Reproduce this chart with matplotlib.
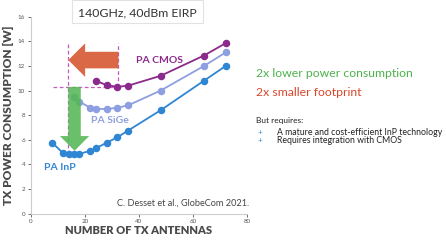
import matplotlib
matplotlib.use("Agg")
import matplotlib.pyplot as plt
from matplotlib.patches import Rectangle

# data
inp_x = [8, 12, 14, 16, 18, 22, 24, 28, 32, 36, 48, 64, 72]
inp_y = [5.75, 4.9, 4.8, 4.8, 4.85, 5.1, 5.3, 5.75, 6.2, 6.75, 8.4, 10.8, 12.0]
sige_x = [16, 18, 22, 24, 28, 32, 36, 48, 64, 72]
sige_y = [9.5, 9.1, 8.6, 8.5, 8.5, 8.6, 8.8, 10.0, 12.0, 13.1]
cmos_x = [24, 28, 32, 36, 48, 64, 72]
cmos_y = [10.8, 10.45, 10.3, 10.4, 11.2, 12.85, 13.85]
x_ticks = [0, 20, 40, 60, 80]
y_ticks = [0, 2, 4, 6, 8, 10, 12, 14, 16]

c_inp = '#2f86d3'
c_sige = '#8d9fe0'
c_cmos = '#8b2a8c'
c_dash = '#c55ac5'

plt.rcParams['font.family'] = ['Lato', 'DejaVu Sans']

fig = plt.figure(figsize=(4.46, 2.40), dpi=100)
ax = fig.add_axes([0.0688, 0.1104, 0.4857, 0.8196])

ax.plot(inp_x, inp_y, '-o', color=c_inp, lw=1.3, ms=4.4, zorder=3)
ax.plot(sige_x, sige_y, '-o', color=c_sige, lw=1.3, ms=4.4, zorder=3)
ax.plot(cmos_x, cmos_y, '-o', color=c_cmos, lw=1.3, ms=4.4, zorder=3)

# dashed guide lines
ax.plot([8.2, 32.3], [10.3, 10.3], ls=(0, (3, 2)), color=c_dash, lw=0.9, zorder=2)
ax.plot([13.9, 13.9], [4.8, 13.9], ls=(0, (3, 2)), color=c_dash, lw=0.9, zorder=2)
ax.plot([32.1, 32.1], [10.3, 13.9], ls=(0, (3, 2)), color=c_dash, lw=0.9, zorder=2)

# arrows
ax.arrow(32.4, 12.48, -12.3, 0, width=1.35, head_width=2.72, head_length=6.2,
         length_includes_head=False, color='#d8603c', lw=0, alpha=0.95, zorder=4)
ax.arrow(16.2, 10.3, 0, -4.0, width=4.6, head_width=10.8, head_length=1.2,
         length_includes_head=False, color='#55b855', lw=0, alpha=0.88, zorder=4)

ax.text(47.4, 12.42, 'PA CMOS', color=c_cmos, fontsize=7.5, fontweight='bold',
        ha='center', va='center')
ax.text(29.3, 7.6, 'PA SiGe', color=c_sige, fontsize=7.5, fontweight='bold',
        ha='center', va='center')
ax.text(10.9, 3.72, 'PA InP', color=c_inp, fontsize=7.5, fontweight='bold',
        ha='center', va='center')
ax.text(80.5, 0.8, 'C. Desset et al., GlobeCom 2021.', color='#444444', fontsize=6.6,
        ha='right', va='center')

ax.set_xlim(0, 80)
ax.set_ylim(0, 16)
ax.set_xticks(x_ticks)
ax.set_yticks(y_ticks)
ax.tick_params(labelsize=4.5, colors='#555555', length=2, width=0.6, pad=2)
for s in ['top', 'right']:
    ax.spines[s].set_visible(False)
for s in ['left', 'bottom']:
    ax.spines[s].set_color('#cccccc')
    ax.spines[s].set_linewidth(0.8)

ax.set_xlabel('NUMBER OF TX ANTENNAS', fontsize=8, fontweight='heavy',
              color='#4a4a4a', labelpad=1)
ax.set_ylabel('TX POWER CONSUMPTION [W]', fontsize=8.6, fontweight='heavy',
              color='#4a4a4a', labelpad=3)

# title box
fig.patches.append(Rectangle((71.7 / 446, 1 - 23.3 / 240), 131.6 / 446, 23.3 / 240,
                             transform=fig.transFigure, fill=False,
                             edgecolor='#e2e2e2', lw=0.8))
fig.text(137 / 446, 1 - 13.3 / 240, '140GHz, 40dBm EIRP', fontsize=8.8,
         color='#333333', ha='center', va='center')

# right-hand notes
fig.text(256 / 446, 1 - 73.3 / 240, '2x lower power consumption', fontsize=8.8,
         color='#4cb24c', ha='left', va='center')
fig.text(256 / 446, 1 - 92.7 / 240, '2x smaller footprint', fontsize=8.8,
         color='#d9472b', ha='left', va='center')
fig.text(256 / 446, 1 - 120.7 / 240, 'But requires:', fontsize=6,
         color='#222222', ha='left', va='center')
for yy, txt in [(132.3, 'A mature and cost-efficient InP technology'),
                (140.7, 'Requires integration with CMOS')]:
    fig.text(258 / 446, 1 - yy / 240, '+', fontsize=6, color='#3a8fd8',
             ha='left', va='center')
    fig.text(276.7 / 446, 1 - yy / 240, txt, fontsize=6.3, color='#222222',
             ha='left', va='center')

fig.savefig('out.png', dpi=100)
